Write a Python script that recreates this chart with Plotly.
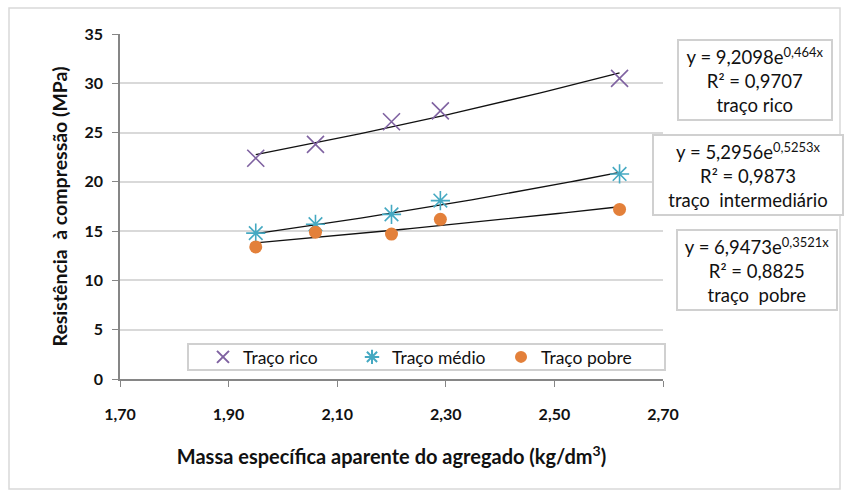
import numpy as np
import plotly.graph_objects as go

# Data
x_vals = [1.95, 2.06, 2.20, 2.29, 2.62]
rico = [22.4, 23.8, 26.1, 27.2, 30.5]
medio = [14.8, 15.7, 16.7, 18.1, 20.8]
pobre = [13.4, 14.9, 14.7, 16.2, 17.2]
series_names = ["Traço rico", "Traço médio", "Traço pobre"]
# exponential trendline coefficients shown on the chart: y = a*e^(b*x)
coef_a = [9.2098, 5.2956, 6.9473]
coef_b = [0.464, 0.5253, 0.3521]
r2 = ["0,9707", "0,9873", "0,8825"]
b_txt = ["0,464", "0,5253", "0,3521"]
a_txt = ["9,2098", "5,2956", "6,9473"]
labels = ["traço rico", "traço  intermediário", "traço  pobre"]
x_ticks = [1.70, 1.90, 2.10, 2.30, 2.50, 2.70]
y_ticks = [0, 5, 10, 15, 20, 25, 30, 35]

colors = ["#7F62A1", "#45A9C2", "#E3803A"]
symbols = ["x-thin", "asterisk-open", "circle"]
sizes = [17, 16, 13]

W, H = 848, 496
L, R, T, B = 120, 185, 34, 117
pw, ph = W - L - R, H - T - B
FONT = "Lato, Open Sans, sans-serif"

fig = go.Figure()
xs = np.linspace(min(x_vals), max(x_vals), 60)
for a, b in zip(coef_a, coef_b):
    fig.add_trace(go.Scatter(x=xs, y=a * np.exp(b * xs), mode="lines",
                             line=dict(color="#111111", width=1.3),
                             showlegend=False, hoverinfo="skip"))
for name, ys, c, s, sz in zip(series_names, [rico, medio, pobre], colors, symbols, sizes):
    mk = dict(symbol=s, size=sz, color=c, line=dict(color=c, width=1.6))
    if s == "circle":
        mk = dict(symbol=s, size=sz, color=c, line=dict(width=0))
    fig.add_trace(go.Scatter(x=x_vals, y=ys, mode="markers", name=name, marker=mk))

def px2paper_x(px):
    return (px - L) / pw

def px2paper_y(py):
    return (H - B - py) / ph

boxes = [(755, 80, 146), (748, 175, 182), (757, 270, 152)]
for (cx, cy, w), a, b, r, lab in zip(boxes, a_txt, b_txt, r2, labels):
    txt = f"y = {a}e<sup>{b}x</sup><br>R² = {r}<br>{lab}"
    fig.add_annotation(x=px2paper_x(cx), y=px2paper_y(cy), xref="paper", yref="paper",
                       xanchor="center", yanchor="middle",
                       text=txt, showarrow=False, align="center", width=w, height=72,
                       font=dict(family=FONT, size=18.5, color="#111111"),
                       bordercolor="#D0D0D0", borderwidth=2, borderpad=3, bgcolor="white")

# outer border
fig.add_shape(type="rect", xref="paper", yref="paper",
              x0=px2paper_x(9), x1=px2paper_x(840), y0=px2paper_y(489), y1=px2paper_y(8),
              line=dict(color="#D9D9D9", width=1.5), layer="below")
# legend frame
fig.add_shape(type="rect", xref="paper", yref="paper",
              x0=px2paper_x(188), x1=px2paper_x(665), y0=px2paper_y(370), y1=px2paper_y(344),
              line=dict(color="#D0D0D0", width=2), fillcolor="white", layer="above")

fig.update_layout(
    width=W, height=H, margin=dict(l=L, r=R, t=T, b=B),
    paper_bgcolor="white", plot_bgcolor="white",
    separators=",.",
    font=dict(family=FONT, color="#111111"),
    legend=dict(orientation="h", x=px2paper_x(203), y=px2paper_y(357), xanchor="left", yanchor="middle",
                bgcolor="rgba(0,0,0,0)", borderwidth=0,
                entrywidth=104, entrywidthmode="pixels",
                font=dict(size=17.5, family=FONT, color="#111111"),
                itemsizing="constant"),
    xaxis=dict(range=[1.70, 2.70], tickvals=x_ticks, tickformat=".2f",
               showgrid=False, zeroline=False, showline=True, linecolor="#868686", linewidth=1.5,
               ticks="outside", ticklen=6, tickcolor="#868686", ticklabelstandoff=14,
               tickfont=dict(size=16, family=FONT, color="#111111", weight="bold"),
               title=dict(text="Massa específica aparente do agregado (kg/dm<sup>3</sup>)",
                          font=dict(size=20, weight="bold"), standoff=28)),
    yaxis=dict(range=[0, 35], tickvals=y_ticks,
               showgrid=True, gridcolor="#D9D9D9", gridwidth=1.5, zeroline=False,
               showline=True, linecolor="#868686", linewidth=1.5,
               ticks="outside", ticklen=6, tickcolor="#868686", ticklabelstandoff=6,
               tickfont=dict(size=16, family=FONT, color="#111111", weight="bold"),
               title=dict(text="Resistência  à compressão (MPa)",
                          font=dict(size=19.5, weight="bold"), standoff=12)),
)

fig.write_html("out.html")
